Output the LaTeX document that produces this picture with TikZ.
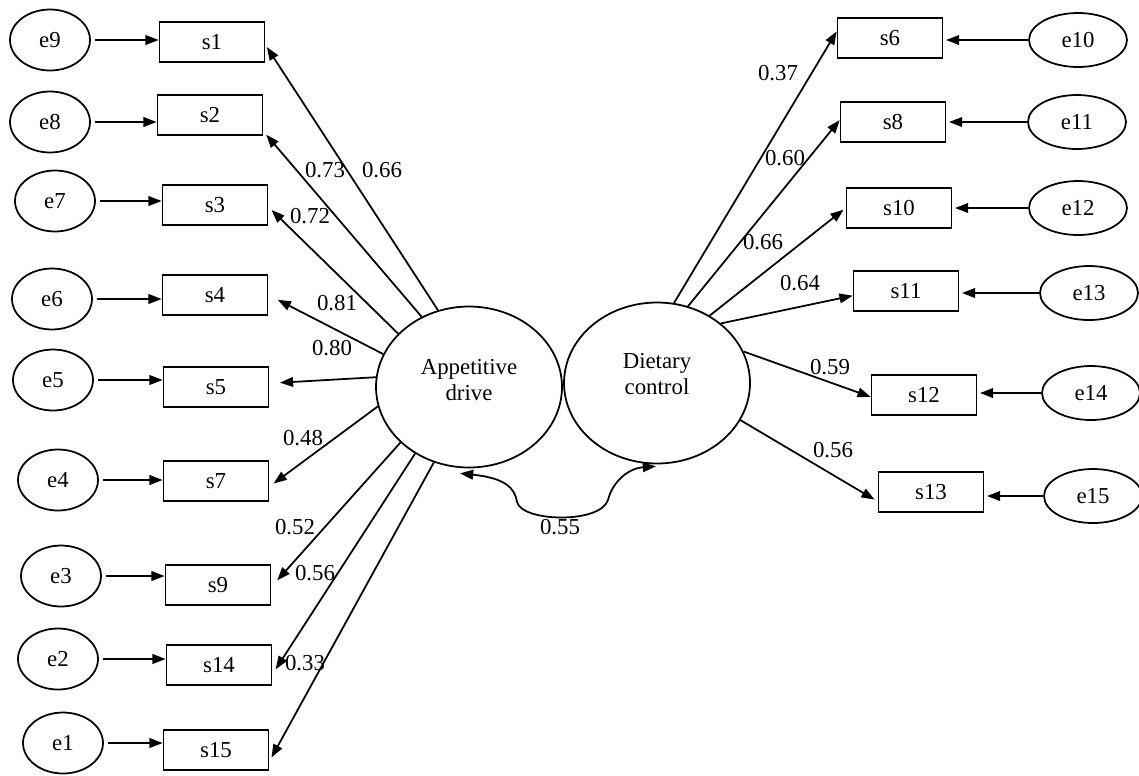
\documentclass[tikz,border=0pt]{standalone}
\usepackage{fontspec}
\setmainfont{Liberation Serif}
\usetikzlibrary{arrows.meta}
\usetikzlibrary{shapes.geometric}
\usetikzlibrary{calc}

\begin{document}
\begin{tikzpicture}[x=0.02cm, y=-0.02cm, line width=1pt,
	font=\fontsize{13}{15}\selectfont,
	latent/.style={draw, ellipse, inner sep=0pt, minimum width=3.72cm, minimum height=3.22cm, align=center},
	errleft/.style={draw, ellipse, inner sep=0pt, minimum width=1.6cm, minimum height=1.22cm},
	errright/.style={draw, ellipse, inner sep=0pt, minimum width=1.96cm, minimum height=1.08cm},
	item/.style={draw, rectangle, inner sep=0pt, minimum width=2.1cm, minimum height=0.8cm},
	tip/.style={-{Triangle[length=7.5pt,width=5.5pt]}},
	cov/.style={{Triangle[length=7.5pt,width=5.5pt]}-{Triangle[length=7.5pt,width=5.5pt]}}]

	\useasboundingbox (0,0) rectangle (1139,775);

	% latent factors
	\node[latent] (ad) at (469,387) {Appetitive\\drive\\[-7pt]};
	\node[latent] (dc) at (657,383) {Dietary\\control\\[-5pt]};

	% left items with their error terms
	\foreach \s/\sx/\sy/\e/\ex/\ey in {s1/212/42/e9/50/40, s2/210/115/e8/50/122,
		s3/215/205/e7/55/201, s4/215/295/e6/52/299, s5/216/387/e5/53/380,
		s7/216/481/e4/58/480, s9/218/585/e3/61/576, s14/219/665/e2/58/659,
		s15/216/750/e1/63/743} {
		\node[item] (\s) at (\sx,\sy) {\s};
		\node[errleft] (\e) at (\ex,\ey) {\e};
		\draw[tip, shorten <=2.5pt] (\e) -- (\e -| \s.west);
	}

	% right items with their error terms
	\foreach \s/\sx/\sy/\e/\ex/\ey in {s6/890/38/e10/1078/40, s8/893/122/e11/1077/122,
		s10/899/208/e12/1078/208, s11/906/291/e13/1089/293, s12/924/395/e14/1091/393,
		s13/931/492/e15/1093/496} {
		\node[item] (\s) at (\sx,\sy) {\s};
		\node[errright] (\e) at (\ex,\ey) {\e};
		\draw[tip, shorten >=1.5pt] (\e) -- (\e -| \s.east);
	}

	% loadings of appetitive drive
	\foreach \s/\a/\b/\g in {s1/112/357/1.5, s2/124/343/2.5, s3/143/358/2.5,
		s4/159/0/6, s5/174/4/6, s7/192/354/3, s9/219/358/5, s14/231/350/3.5,
		s15/245/348/2.5} {
		\draw[tip, shorten >=\g pt] (ad.\a) -- (\s.\b);
	}

	% loadings of dietary control
	\foreach \s/\a/\b/\g in {s6/78.5/173/0, s8/68/178/0, s10/52/180/1.5,
		s11/43/185/0, s12/20/182/0, s13/336/190/2} {
		\draw[tip, shorten >=\g pt] (dc.\a) -- (\s.\b);
	}

	% loading values
	\node (v-s1) at (382,170) {0.66};
	\node (v-s2) at (325,170) {0.73};
	\node (v-s3) at (310,216) {0.72};
	\node (v-s4) at (337,303) {0.81};
	\node (v-s5) at (332,348) {0.80};
	\node (v-s7) at (303,438) {0.48};
	\node (v-s9) at (295,527) {0.52};
	\node (v-s14) at (315,573) {0.56};
	\node (v-s15) at (305,663) {0.33};
	\node (v-s6) at (778,73) {0.37};
	\node (v-s8) at (785,158) {0.60};
	\node (v-s10) at (763,242) {0.66};
	\node (v-s11) at (800,283) {0.64};
	\node (v-s12) at (830,367) {0.59};
	\node (v-s13) at (833,450) {0.56};

	% covariance between the factors
	\coordinate (cva) at ($(ad.south)+(-9,5)$);
	\coordinate (cvb) at ($(dc.south)+(-1,2)$);
	\draw[cov] (cva) .. controls (505,478) and (515,488) .. (517,502)
		.. controls (522,522) and (600,524) .. (608,500)
		.. controls (613,480) and (630,468) .. (cvb);
	\node (v-cov) at (560,527) {0.55};

\end{tikzpicture}
\end{document}
